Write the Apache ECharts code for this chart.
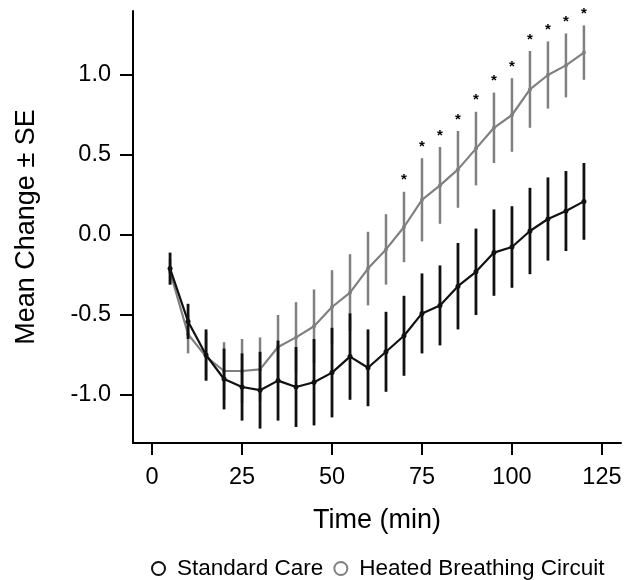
<!DOCTYPE html>
<html>
<head>
<meta charset="utf-8">
<script src="https://cdn.jsdelivr.net/npm/echarts@6/dist/echarts.min.js"></script>
<style>html,body{margin:0;padding:0;background:#fff}#c{width:631px;height:580px}</style>
</head>
<body>
<div id="c"></div>
<script>
var times = [5,10,15,20,25,30,35,40,45,50,55,60,65,70,75,80,85,90,95,100,105,110,115,120];
var stdMean = [-0.21,-0.54,-0.75,-0.90,-0.95,-0.97,-0.91,-0.95,-0.92,-0.86,-0.76,-0.83,-0.73,-0.63,-0.49,-0.44,-0.32,-0.23,-0.11,-0.075,0.025,0.10,0.15,0.21];
var stdSE = [0.10,0.11,0.16,0.19,0.21,0.24,0.25,0.25,0.27,0.28,0.27,0.24,0.25,0.25,0.25,0.25,0.27,0.27,0.27,0.255,0.27,0.26,0.25,0.24];
var heatMean = [-0.23,-0.62,-0.76,-0.85,-0.85,-0.84,-0.70,-0.64,-0.57,-0.45,-0.36,-0.21,-0.09,0.05,0.22,0.31,0.41,0.54,0.67,0.75,0.91,1.00,1.06,1.14];
var heatSE = [0.08,0.12,0.15,0.18,0.20,0.20,0.20,0.22,0.23,0.23,0.24,0.23,0.22,0.22,0.26,0.24,0.24,0.23,0.22,0.23,0.24,0.21,0.20,0.17];
var starTimes = [70,75,80,85,90,95,100,105,110,115,120];
var xTicks = [0,25,50,75,100,125];
var yTicks = [-1.0,-0.5,0.0,0.5,1.0];
var seriesNames = ['Standard Care','Heated Breathing Circuit'];

var BLACK = '#111111', GRAY = '#808080';
var FONT = 'Liberation Sans';

function pts(m){ return times.map(function(t,i){ return [t, m[i]]; }); }
function bars(m,s){ return times.map(function(t,i){ return [t, m[i]-s[i], m[i]+s[i]]; }); }
function errRender(color, w){
  return function(params, api){
    var p1 = api.coord([api.value(0), api.value(1)]);
    var p2 = api.coord([api.value(0), api.value(2)]);
    return {type:'line', shape:{x1:p1[0],y1:p1[1],x2:p2[0],y2:p2[1]}, style:{stroke:color, lineWidth:w}};
  };
}
var starData = starTimes.map(function(t){ var i = times.indexOf(t); return [t, heatMean[i]+heatSE[i]]; });

var chart = echarts.init(document.getElementById('c'), null, {renderer:'canvas'});
chart.setOption({
  animation:false,
  textStyle:{fontFamily:FONT},
  grid:{left:133, right:10, top:11, bottom:137, containLabel:false},
  legend:{
    top:552, left:146,
    data:[{name:seriesNames[0], itemStyle:{color:'#fff', borderColor:BLACK, borderWidth:2}},
          {name:seriesNames[1], itemStyle:{color:'#fff', borderColor:GRAY, borderWidth:2}}],
    icon:'circle', itemWidth:13, itemHeight:13, itemGap:10,
    textStyle:{fontSize:22.5, color:'#000', fontFamily:FONT, padding:[0,0,0,7]}
  },
  xAxis:{
    type:'value', min:-5.3, max:130.3,
    name:'Time (min)', nameLocation:'middle', nameGap:64,
    nameTextStyle:{fontSize:27, color:'#000', fontFamily:FONT},
    axisLine:{show:true, onZero:false, lineStyle:{color:'#000', width:2}},
    axisTick:{show:true, length:12, lineStyle:{color:'#000', width:2}, customValues:xTicks},
    axisLabel:{fontSize:23.5, color:'#000', margin:23, customValues:xTicks, fontFamily:FONT},
    splitLine:{show:false}
  },
  yAxis:{
    type:'value', min:-1.3, max:1.4,
    name:'Mean Change \u00b1 SE', nameLocation:'middle', nameGap:93,
    nameTextStyle:{fontSize:27, color:'#000', fontFamily:FONT},
    axisLine:{show:true, onZero:false, lineStyle:{color:'#000', width:2}},
    axisTick:{show:true, length:13, lineStyle:{color:'#000', width:2}, customValues:yTicks},
    axisLabel:{fontSize:23.5, color:'#000', margin:22, customValues:yTicks, fontFamily:FONT,
      formatter:function(v){ return v.toFixed(1); }},
    splitLine:{show:false}
  },
  series:[
    {type:'custom', name:seriesNames[1]+' SE', data:bars(heatMean,heatSE), renderItem:errRender(GRAY,2.5), z:2, silent:true},
    {type:'line', name:seriesNames[1], data:pts(heatMean), color:GRAY,
      lineStyle:{color:GRAY, width:2.2}, symbol:'circle', symbolSize:4, itemStyle:{color:GRAY}, z:3},
    {type:'custom', name:seriesNames[0]+' SE', data:bars(stdMean,stdSE), renderItem:errRender(BLACK,2.8), z:4, silent:true},
    {type:'line', name:seriesNames[0], data:pts(stdMean), color:BLACK,
      lineStyle:{color:BLACK, width:2.2}, symbol:'circle', symbolSize:5, itemStyle:{color:BLACK}, z:5},
    {type:'custom', name:'stars', data:starData, z:6, silent:true,
      renderItem:function(params, api){
        var p = api.coord([api.value(0), api.value(1)]);
        return {type:'text', x:p[0], y:p[1]-4, style:{text:'*', fontSize:15, fontWeight:'bold', fontFamily:FONT, fill:'#000', align:'center', verticalAlign:'bottom'}};
      }}
  ]
});
</script>
</body>
</html>
